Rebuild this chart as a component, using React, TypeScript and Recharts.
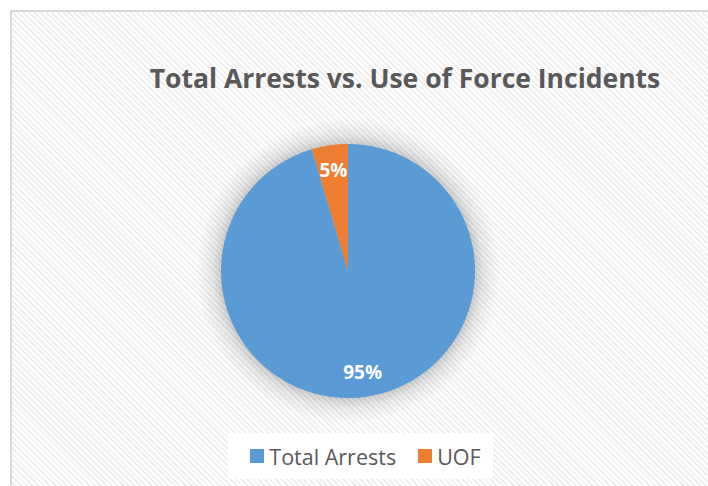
import React from 'react';
import {PieChart, Pie, Cell, Legend} from 'recharts';

const categories = ['Total Arrests', 'UOF'];
const shares = [95.4, 4.6];
const colors = ['#5B9BD5', '#ED7D31'];

const data = categories.map((name, i) => ({name, value: shares[i]}));

const FONT = '"Open Sans", "Noto Sans", sans-serif';

const renderLabel = (props: any) => {
  const {cx, cy, midAngle, outerRadius, percent} = props;
  const r = outerRadius * 0.8;
  const rad = (Math.PI / 180) * midAngle;
  const x = cx + r * Math.cos(rad);
  const y = cy - r * Math.sin(rad);
  return (
    <text x={x} y={y} fill="#fff" fontSize={19} fontWeight={700} fontFamily={FONT}
          textAnchor="middle" dominantBaseline="central">
      {`${Math.round(percent * 100)}%`}
    </text>
  );
};

const LegendBox = () => (
  <div style={{
    background: '#fff', width: 265, height: 46, display: 'flex', alignItems: 'center',
    justifyContent: 'center', boxSizing: 'border-box', paddingLeft: 10,
    fontFamily: FONT, fontSize: 21.5, color: '#595959',
  }}>
    {categories.map((c, i) => (
      <span key={c} style={{display: 'flex', alignItems: 'center', marginRight: i === 0 ? 22 : 0}}>
        <span style={{width: 14, height: 14, background: colors[i], marginRight: 5, display: 'inline-block'}}/>
        {c}
      </span>
    ))}
  </div>
);

export default function App() {
  return (
    <div style={{position: 'fixed', left: 0, top: 0, width: 708, height: 486, overflow: 'hidden', background: '#fff'}}>
      <div style={{
        position: 'absolute', left: 10, top: 10, width: 698, height: 476,
        borderLeft: '2px solid #d9d9d9', borderTop: '2px solid #d9d9d9', boxSizing: 'border-box',
        background: 'repeating-linear-gradient(45deg, #ffffff 0px, #ffffff 2px, #efefef 2px, #efefef 4px)',
      }}/>
      <div style={{
        position: 'absolute', left: 348 - 160, top: 271 - 160, width: 320, height: 320,
        background: 'radial-gradient(circle at center, rgba(0,0,0,0.28) 0px, rgba(0,0,0,0.22) 124px, rgba(0,0,0,0.08) 136px, rgba(0,0,0,0) 152px)',
      }}/>
      <div style={{position: 'absolute', left: 0, top: 0}}>
        <PieChart width={708} height={486} margin={{top: 0, right: 0, bottom: 0, left: 0}}>
          <text x={405} y={78} textAnchor="middle" dominantBaseline="central"
                fontFamily={FONT} fontSize={26.5} fontWeight={700} fill="#595959">
            Total Arrests vs. Use of Force Incidents
          </text>
          <Pie data={data} dataKey="value" nameKey="name" cx={348} cy={271} outerRadius={127}
               startAngle={90} endAngle={-270} stroke="none" label={renderLabel} labelLine={false}
               isAnimationActive={false}>
            {data.map((d, i) => <Cell key={d.name} fill={colors[i]}/>)}
          </Pie>
          <Legend content={<LegendBox/>} wrapperStyle={{position: 'absolute', left: 228, top: 433, width: 265}}/>
        </PieChart>
      </div>
    </div>
  );
}
